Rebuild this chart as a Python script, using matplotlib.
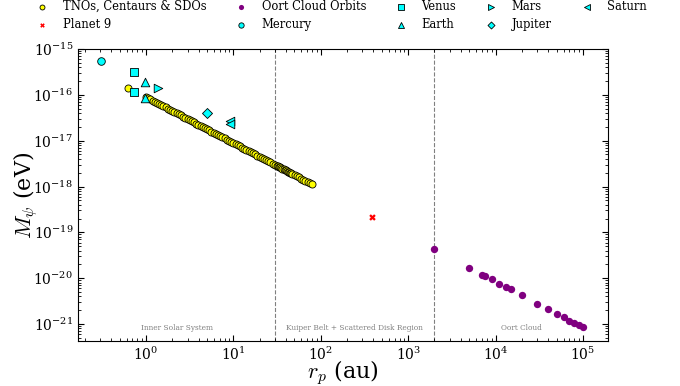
import matplotlib
matplotlib.use("Agg")
import matplotlib.pyplot as plt
import numpy as np

plt.rcParams['font.family'] = 'serif'
plt.rcParams['font.serif'] = ['DejaVu Serif']
plt.rcParams['mathtext.fontset'] = 'cm'
plt.rcParams['axes.formatter.use_mathtext'] = True

# --- data ---
tno_r = [0.62, 1.00, 1.06, 1.12, 1.19, 1.26, 1.33, 1.41, 1.50, 1.58, 1.68, 1.78, 1.88,
         2.00, 2.11, 2.24, 2.37, 2.51, 2.66, 2.82, 2.99, 3.16, 3.35, 3.55, 3.76, 3.98,
         4.22, 4.47, 4.73, 5.01, 5.31, 5.62, 5.96, 6.31, 6.68, 7.08, 7.50, 7.94, 8.41,
         8.91, 9.44, 10.0, 10.6, 11.2, 11.9, 12.6, 13.3, 14.1, 15.0, 15.8, 16.8, 17.8,
         18.8, 20.0, 21.1, 22.4, 23.7, 25.1, 26.6, 28.2, 29.9, 31.6, 32.5, 33.5, 34.2,
         35.5, 36.5, 37.6, 38.7, 39.8, 40.8, 42.2, 43.5, 44.7, 45.9, 47.3, 50.1, 53.1,
         56.2, 59.6, 63.1, 66.8, 70.8, 75.0, 79.4]
tno_m = [1.42e-16, 8.90e-17, 8.40e-17, 7.95e-17, 7.48e-17, 7.06e-17, 6.69e-17, 6.31e-17,
         5.93e-17, 5.63e-17, 5.30e-17, 5.00e-17, 4.73e-17, 4.45e-17, 4.22e-17, 3.97e-17,
         3.76e-17, 3.55e-17, 3.35e-17, 3.16e-17, 2.98e-17, 2.82e-17, 2.66e-17, 2.51e-17,
         2.37e-17, 2.24e-17, 2.11e-17, 1.99e-17, 1.88e-17, 1.78e-17, 1.68e-17, 1.58e-17,
         1.49e-17, 1.41e-17, 1.33e-17, 1.26e-17, 1.19e-17, 1.12e-17, 1.06e-17, 9.99e-18,
         9.43e-18, 8.90e-18, 8.40e-18, 7.95e-18, 7.48e-18, 7.06e-18, 6.69e-18, 6.31e-18,
         5.93e-18, 5.63e-18, 5.30e-18, 5.00e-18, 4.73e-18, 4.45e-18, 4.22e-18, 3.97e-18,
         3.76e-18, 3.55e-18, 3.35e-18, 3.16e-18, 2.98e-18, 2.82e-18, 2.74e-18, 2.66e-18,
         2.60e-18, 2.51e-18, 2.44e-18, 2.37e-18, 2.30e-18, 2.24e-18, 2.18e-18, 2.11e-18,
         2.05e-18, 1.99e-18, 1.94e-18, 1.88e-18, 1.78e-18, 1.68e-18, 1.58e-18, 1.49e-18,
         1.41e-18, 1.33e-18, 1.26e-18, 1.19e-18, 1.12e-18]

p9_r = [385.0]
p9_m = [2.2e-19]

oort_r = [2000, 5000, 7000, 7500, 9000, 11000, 13000, 15000, 20000, 30000, 40000,
          50000, 60000, 70000, 80000, 90000, 100000]
oort_m = [4.3e-20, 1.68e-20, 1.18e-20, 1.11e-20, 9.4e-21, 7.5e-21, 6.46e-21, 5.67e-21,
          4.19e-21, 2.8e-21, 2.1e-21, 1.69e-21, 1.41e-21, 1.19e-21, 1.04e-21, 9.3e-22,
          8.4e-22]

mercury_r = [0.307]
mercury_m = [5.5e-16]
venus_r = [0.735, 0.735]
venus_m = [3.2e-16, 1.15e-16]
earth_r = [0.983, 0.983]
earth_m = [1.9e-16, 8.5e-17]
mars_r = [1.38]
mars_m = [1.4e-16]
jupiter_r = [4.95]
jupiter_m = [4.0e-17]
saturn_r = [9.04, 9.04]
saturn_m = [2.7e-17, 2.3e-17]

region_bounds = [30, 2000]
region_labels = ["Inner Solar System", "Kuiper Belt + Scattered Disk Region", "Oort Cloud"]

xlim = (0.167, 1.93e5)
ylim = (4.26e-22, 1e-15)

# --- figure ---
fig = plt.figure(figsize=(6.8, 3.86), dpi=100)
ax = fig.add_axes([0.1147, 0.1166, 0.894 - 0.1147, 0.873 - 0.1166])

ax.scatter(tno_r, tno_m, s=26, c='yellow', edgecolors='black', linewidths=0.6,
           label='TNOs, Centaurs & SDOs', zorder=3)
ax.scatter(p9_r, p9_m, s=22, c='red', marker='X', linewidths=0, label='Planet 9', zorder=3)
ax.scatter(oort_r, oort_m, s=28, c='purple', linewidths=0, label='Oort Cloud Orbits', zorder=3)
pkw = dict(c='cyan', edgecolors='black', linewidths=0.6, zorder=4)
ax.scatter(mercury_r, mercury_m, s=30, marker='o', label='Mercury', **pkw)
ax.scatter(venus_r, venus_m, s=30, marker='s', label='Venus', **pkw)
ax.scatter(earth_r, earth_m, s=38, marker='^', label='Earth', **pkw)
ax.scatter(mars_r, mars_m, s=38, marker='>', label='Mars', **pkw)
ax.scatter(jupiter_r, jupiter_m, s=26, marker='D', label='Jupiter', **pkw)
ax.scatter(saturn_r, saturn_m, s=38, marker='<', label='Saturn', **pkw)

for b in region_bounds:
    ax.axvline(b, color='gray', ls='--', lw=0.8, zorder=1)

ax.set_xscale('log')
ax.set_yscale('log')
ax.set_xlim(*xlim)
ax.set_ylim(*ylim)

edges = [xlim[0]] + region_bounds + [xlim[1]]
for i, lab in enumerate(region_labels):
    xc = np.sqrt(edges[i] * edges[i + 1])
    ax.text(xc, 0.03, lab, transform=ax.get_xaxis_transform(), ha='center', va='bottom',
            fontsize=5.3, color='gray')

ax.tick_params(which='both', direction='in', top=True, right=True, labelsize=10)
ax.tick_params(which='major', length=4)
ax.tick_params(which='minor', length=2)
ax.set_xlabel(r'$r_p$ (au)', fontsize=16)
ax.set_ylabel(r'$M_\psi$ (eV)', fontsize=16)
ax.xaxis.set_label_coords(0.5, -0.058)
ax.yaxis.set_label_coords(-0.072, 0.5)

fig.legend(loc='upper left', bbox_to_anchor=(0.054, 1.0), ncol=5, frameon=False,
           fontsize=8.3, markerscale=0.7, handletextpad=1.25, columnspacing=2.55,
           labelspacing=0.4, handlelength=1.0, borderpad=0, borderaxespad=0)

fig.savefig('out.png', dpi=100)
